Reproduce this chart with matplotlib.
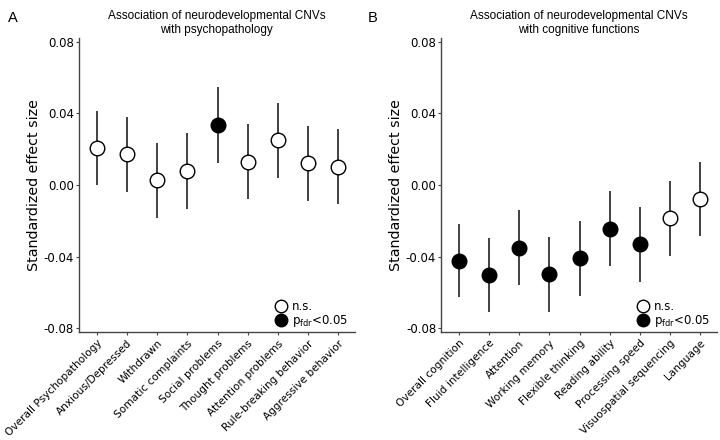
import matplotlib
matplotlib.use("Agg")
import matplotlib.pyplot as plt
from matplotlib.lines import Line2D

plt.rcParams['font.family'] = ['DejaVu Sans']

psy_labels = ['Overall Psychopathology', 'Anxious/Depressed', 'Withdrawn',
              'Somatic complaints', 'Social problems', 'Thought problems',
              'Attention problems', 'Rule-breaking behavior', 'Aggressive behavior']
psy_est = [0.0205, 0.0171, 0.0026, 0.0078, 0.0335, 0.0130, 0.0251, 0.0121, 0.0102]
psy_lo = [0.0000, -0.0039, -0.0186, -0.0136, 0.0125, -0.0080, 0.0041, -0.0087, -0.0108]
psy_hi = [0.0415, 0.0380, 0.0236, 0.0288, 0.0548, 0.0340, 0.0459, 0.0331, 0.0312]
psy_sig = [False, False, False, False, True, False, False, False, False]

cog_labels = ['Overall cognition', 'Fluid intelligence', 'Attention',
              'Working memory', 'Flexible thinking', 'Reading ability',
              'Processing speed', 'Visuospatial sequencing', 'Language']
cog_est = [-0.0424, -0.0502, -0.0350, -0.0498, -0.0409, -0.0245, -0.0331, -0.0184, -0.0080]
cog_lo = [-0.0627, -0.0707, -0.0558, -0.0707, -0.0617, -0.0452, -0.0540, -0.0396, -0.0286]
cog_hi = [-0.0219, -0.0294, -0.0139, -0.0288, -0.0201, -0.0033, -0.0124, 0.0024, 0.0127]
cog_sig = [True, True, True, True, True, True, True, False, False]

yticks = [-0.08, -0.04, 0.00, 0.04, 0.08]

fig = plt.figure(figsize=(7.2, 4.4), dpi=100)
axA = fig.add_axes([0.1097, 0.2455, 0.383, 0.668])
axB = fig.add_axes([0.6125, 0.2455, 0.383, 0.668])


def panel(ax, labels, est, lo, hi, sig, title):
    x = list(range(len(labels)))
    ax.vlines(x, lo, hi, color='#333333', lw=1.3, zorder=1)
    for xi, e, s in zip(x, est, sig):
        ax.plot(xi, e, 'o', ms=10.5, mec='black', mew=1.0,
                mfc='black' if s else 'white', zorder=2)
    ax.set_xlim(-0.6, 8.55)
    ax.set_ylim(-0.082, 0.082)
    ax.set_yticks(yticks)
    ax.set_yticklabels(['%.2f' % v for v in yticks], fontsize=8.5)
    ax.set_xticks(x)
    ax.set_xticklabels(labels, rotation=45, ha='right', rotation_mode='anchor',
                       fontsize=7.6)
    ax.tick_params(axis='y', length=2.5, width=0.8, color='#444444', pad=1)
    ax.tick_params(axis='x', length=2.5, width=0.8, color='#444444', pad=2)
    for sp in ['top', 'right']:
        ax.spines[sp].set_visible(False)
    for sp in ['left', 'bottom']:
        ax.spines[sp].set_color('#444444')
        ax.spines[sp].set_linewidth(1.0)
    ax.set_ylabel('Standardized effect size', fontsize=10.3, labelpad=2)
    ax.set_title(title, fontsize=8.5, pad=4, family='Liberation Sans')
    handles = [Line2D([], [], marker='o', ls='', ms=9, mfc='white', mec='black'),
               Line2D([], [], marker='o', ls='', ms=9, mfc='black', mec='black')]
    ax.legend(handles, ['n.s.', r'p$_{\mathregular{fdr}}$<0.05'], loc='lower right',
              frameon=False, fontsize=8.5, handletextpad=0.0, labelspacing=0.0,
              borderaxespad=0.0, bbox_to_anchor=(0.995, -0.005))


panel(axA, psy_labels, psy_est, psy_lo, psy_hi, psy_sig,
      'Association of neurodevelopmental CNVs\nwith psychopathology')
panel(axB, cog_labels, cog_est, cog_lo, cog_hi, cog_sig,
      'Association of neurodevelopmental CNVs\nwith cognitive functions')

fig.text(0.011, 0.975, 'A', fontsize=10.5, va='top', family='Liberation Sans')
fig.text(0.511, 0.975, 'B', fontsize=10.5, va='top', family='Liberation Sans')

fig.savefig('out.png', dpi=100)
